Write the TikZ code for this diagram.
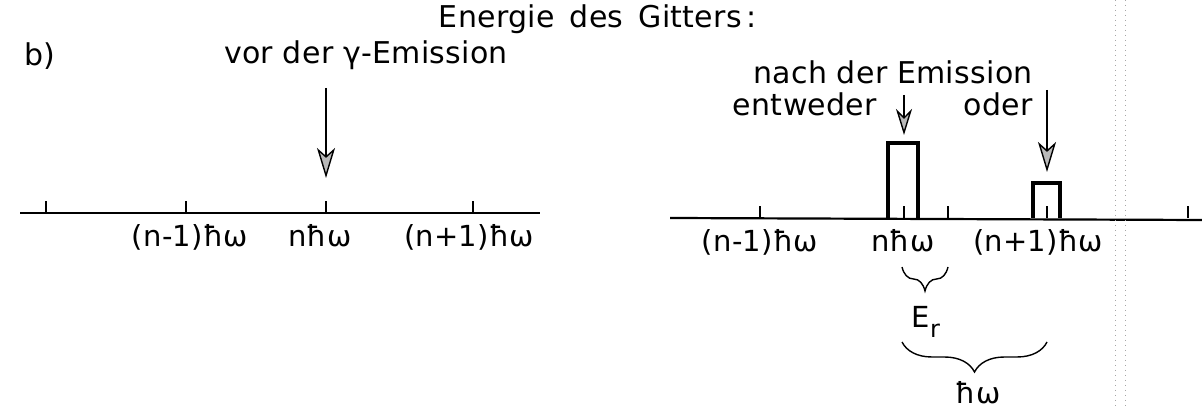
\documentclass[tikz,border=0pt]{standalone}
\usepackage{fontspec}
\setmainfont{DejaVu Sans}[LetterSpace=1]
\usetikzlibrary{arrows.meta,decorations.pathreplacing}
\begin{document}
\begin{tikzpicture}[x=0.5pt,y=-0.5pt,
  txt/.style={inner sep=0pt, anchor=base, font=\fontsize{15}{17}\selectfont},
  lbl/.style={inner sep=0pt, anchor=base, font=\fontsize{14.5}{16}\selectfont},
  axisline/.style={line width=1.1pt},
  tickline/.style={line width=0.8pt},
  boxline/.style={line width=1.7pt},
  bigarrow/.style={line width=0.7pt, -{Stealth[length=15pt,width=9pt,inset=4pt,fill=gray!55]}},
  smallarrow/.style={line width=0.7pt, -{Stealth[length=13pt,width=8pt,inset=4pt,fill=gray!55]}},
  bracedeco/.style={line width=0.7pt, decorate, decoration={brace, mirror, amplitude=#1}},
  edge/.style={gray!70, line width=0.5pt, dotted}]
\useasboundingbox (0,0) rectangle (1202,410);

% texts
\node[txt] (title) at (598,28) {Energie\hspace{0.5em}des\hspace{0.5em}Gitters\,:};
\node[txt] (b) at (40,66) {b)};
\node[txt] (vor) at (366,64) {vor der γ-Emission};
\node[txt] (nach) at (893,84) {nach der Emission};
\node[txt] (entw) at (805,116) {entweder};
\node[txt] (oder) at (998,116) {oder};

% left axis
\coordinate (L0) at (20,213);
\coordinate (L1) at (540,213);
\draw[axisline] (L0) -- (L1);
\foreach \x/\n in {46/la,186/lb,326/lc,473/ld}{
  \coordinate (\n) at (\x,213);
  \draw[tickline] (\n) -- ++(0,-12);
}
\node[lbl] (lnm) at (190,247) {(n-1)ħω};
\node[lbl] (ln) at (320,247) {nħω};
\node[lbl] (lnp) at (469,247) {(n+1)ħω};
\coordinate (arrL0) at (326,88);
\coordinate (arrL1) at (326,178);
\draw[bigarrow] (arrL0) -- (arrL1);

% right axis
\coordinate (R0) at (670,218);
\coordinate (R1) at (1202,220);
\draw[axisline] (R0) -- (R1);
\foreach \x/\n in {760/ra,904/rb,948/rc,1047/rd,1188/re}{
  \coordinate (\n) at (\x,218);
  \draw[tickline] (\n) -- ++(0,-12);
}
\node[lbl] (rnm) at (760,252) {(n-1)ħω};
\node[lbl] (rn) at (903,252) {nħω};
\node[lbl] (rnp) at (1038,252) {(n+1)ħω};

% boxes
\draw[boxline] (888,218) -- (888,143) -- (918,143) -- (918,218);
\draw[boxline] (1033,218) -- (1033,183) -- (1060,183) -- (1060,218);

% arrows right
\coordinate (arrE0) at (904,95);
\coordinate (arrE1) at (904,135);
\draw[smallarrow] (arrE0) -- (arrE1);
\coordinate (arrO0) at (1047,90);
\coordinate (arrO1) at (1047,172);
\draw[bigarrow] (arrO0) -- (arrO1);

% braces
\coordinate (brA0) at (902,267);
\coordinate (brA1) at (948,267);
\draw[bracedeco=12pt] (brA0) -- (brA1);
\node[lbl] (Er) at (926,328) {E\raisebox{-5pt}{\fontsize{12}{13}\selectfont r}};
\coordinate (brB0) at (902,342);
\coordinate (brB1) at (1047,342);
\draw[bracedeco=15pt] (brB0) -- (brB1);
\node[lbl] (hw) at (978,403) {ħω};

% scan edge
\coordinate (e1a) at (1115,0);
\coordinate (e1b) at (1115,410);
\coordinate (e2a) at (1125,0);
\coordinate (e2b) at (1125,410);
\draw[edge] (e1a) -- (e1b);
\draw[edge] (e2a) -- (e2b);
\end{tikzpicture}
\end{document}
